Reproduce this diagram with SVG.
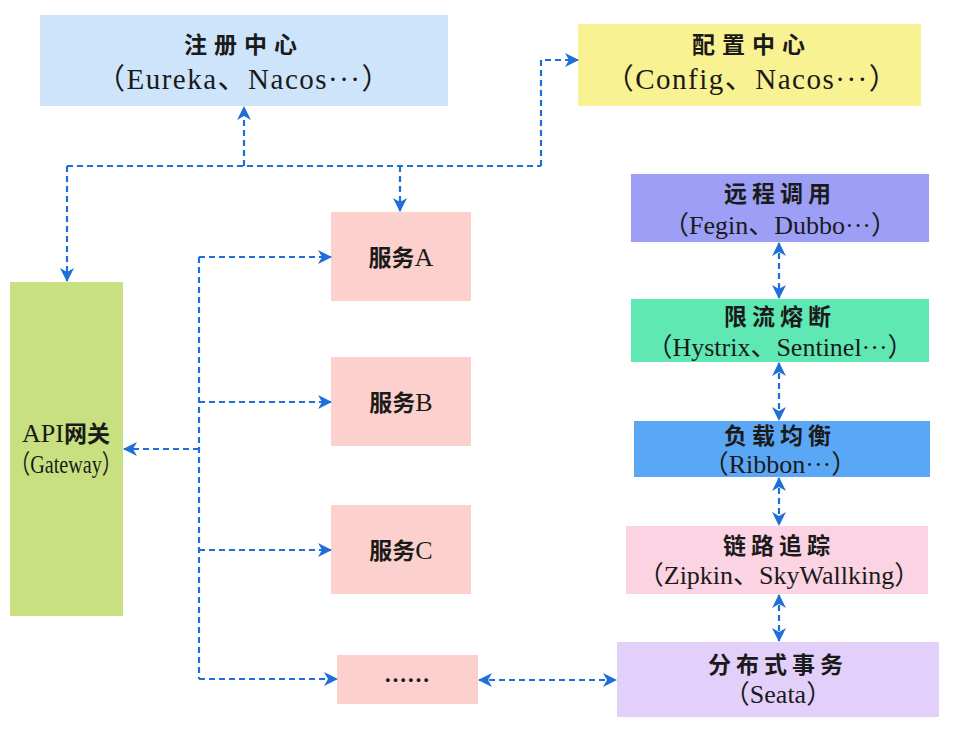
<svg xmlns="http://www.w3.org/2000/svg" width="955" height="734" viewBox="0 0 955 734">
<style>
.t{font-family:"Noto Sans CJK SC","Liberation Serif",sans-serif;font-weight:700;font-size:23px;fill:#1a1a1a;text-anchor:middle}
.s{font-family:"Liberation Serif","DejaVu Serif","Noto Sans CJK SC",serif;font-size:26px;fill:#1a1a1a;text-anchor:middle}
.w{font-size:29px;letter-spacing:1.5px}
.l{font-family:"Liberation Serif","DejaVu Serif",serif;font-weight:400;font-size:26px}
.c{fill:none;stroke:#1f6fd6;stroke-width:2.2;stroke-dasharray:6 4}
</style>
<defs>
<marker id="ah" viewBox="0 0 14 14" refX="13" refY="7" markerWidth="14" markerHeight="14" markerUnits="userSpaceOnUse" orient="auto-start-reverse">
<path d="M0,0 L14,7 L0,14 L4,7 Z" fill="#1f6fd6"/>
</marker>
</defs>
<rect width="955" height="734" fill="#ffffff"/>

<g id="registry">
<rect x="40" y="15" width="408" height="91" fill="#cde4fb"/>
<text class="t" x="244" y="53" letter-spacing="7">注册中心</text>
<text class="s w" x="244" y="89">（Eureka、Nacos···）</text>
</g>
<g id="config">
<rect x="578" y="24" width="343" height="82" fill="#f9f292"/>
<text class="t" x="752" y="53" letter-spacing="7">配置中心</text>
<text class="s w" x="752" y="89">（Config、Nacos···）</text>
</g>
<g id="gateway">
<rect x="10" y="282" width="113" height="334" fill="#c8e07f"/>
<text class="t" x="66" y="442"><tspan class="l">API</tspan>网关</text>
<text class="s" x="66" y="473" font-size="24" textLength="112" lengthAdjust="spacingAndGlyphs">（Gateway）</text>
</g>
<g id="serviceA">
<rect x="331" y="212" width="140" height="89" fill="#fcd0cc"/>
<text class="t" x="401" y="266" font-size="24">服务<tspan class="l">A</tspan></text>
</g>
<g id="serviceB">
<rect x="331" y="357" width="140" height="89" fill="#fcd0cc"/>
<text class="t" x="401" y="411" font-size="24">服务<tspan class="l">B</tspan></text>
</g>
<g id="serviceC">
<rect x="331" y="505" width="140" height="89" fill="#fcd0cc"/>
<text class="t" x="401" y="559" font-size="24">服务<tspan class="l">C</tspan></text>
</g>
<g id="serviceMore">
<rect x="337" y="655" width="141" height="49" fill="#fcd0cc"/>
<text class="t" x="407" y="689" font-weight="400" font-size="24">……</text>
</g>
<g id="remote">
<rect x="631" y="174" width="298" height="68" fill="#9d9ef5"/>
<text class="t" x="780" y="202" font-size="22" letter-spacing="5">远程调用</text>
<text class="s" x="780" y="234">（Fegin、Dubbo···）</text>
</g>
<g id="ratelimit">
<rect x="631" y="299" width="298" height="63" fill="#5fe8b4"/>
<text class="t" x="780" y="325" font-size="22" letter-spacing="5">限流熔断</text>
<text class="s" x="780" y="356">（Hystrix、Sentinel···）</text>
</g>
<g id="loadbalance">
<rect x="634" y="421" width="296" height="56" fill="#5aa8f5"/>
<text class="t" x="780" y="444" font-size="22" letter-spacing="5">负载均衡</text>
<text class="s" x="780" y="473">（Ribbon···）</text>
</g>
<g id="tracing">
<rect x="626" y="526" width="302" height="68" fill="#fbd3e2"/>
<text class="t" x="779" y="554" font-size="22" letter-spacing="5">链路追踪</text>
<text class="s" x="779" y="584">（Zipkin、SkyWallking）</text>
</g>
<g id="transaction">
<rect x="617" y="642" width="322" height="75" fill="#e3d0fa"/>
<text class="t" x="778" y="673" font-size="22" letter-spacing="5">分布式事务</text>
<text class="s" x="778" y="703">（Seata）</text>
</g>

<g id="connectors">
<path class="c" d="M67,166 H541"/>
<path class="c" d="M244,166 V107" marker-end="url(#ah)"/>
<path class="c" d="M67,166 V281" marker-end="url(#ah)"/>
<path class="c" d="M541,166 V60 H578" marker-end="url(#ah)"/>
<path class="c" d="M400,166 V211" marker-end="url(#ah)"/>
<path class="c" d="M199,257 V679"/>
<path class="c" d="M199,257 H331" marker-end="url(#ah)"/>
<path class="c" d="M199,402 H331" marker-end="url(#ah)"/>
<path class="c" d="M199,550 H331" marker-end="url(#ah)"/>
<path class="c" d="M199,679 H337" marker-end="url(#ah)"/>
<path class="c" d="M199,449 H124" marker-end="url(#ah)"/>
<path class="c" d="M479,680 H616" marker-start="url(#ah)" marker-end="url(#ah)"/>
<path class="c" d="M779,243 V298" marker-start="url(#ah)" marker-end="url(#ah)"/>
<path class="c" d="M779,363 V420" marker-start="url(#ah)" marker-end="url(#ah)"/>
<path class="c" d="M779,478 V525" marker-start="url(#ah)" marker-end="url(#ah)"/>
<path class="c" d="M779,595 V641" marker-start="url(#ah)" marker-end="url(#ah)"/>
</g>
</svg>
